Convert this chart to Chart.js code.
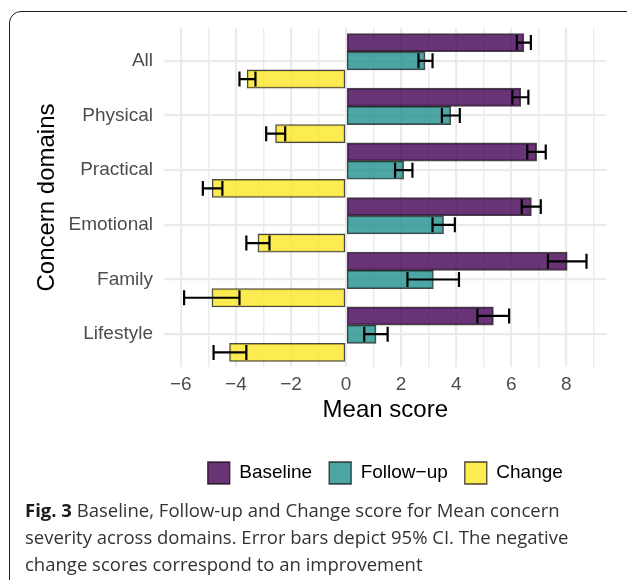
<!DOCTYPE html>
<html>
<head>
<meta charset="utf-8">
<script src="https://cdn.jsdelivr.net/npm/chart.js@4.4.0/dist/chart.umd.min.js"></script>
<style>
  html, body { margin: 0; padding: 0; background: #fff; width: 627px; height: 580px; overflow: hidden; }
  #frame { position: absolute; left: 9px; top: 11px; width: 630px; height: 640px; border: 1.5px solid #1e1e1e; border-radius: 12px; box-sizing: border-box; }
  #chart { position: absolute; left: 0; top: 0; }
  #caption { position: absolute; left: 25px; top: 496px; font-family: 'Open Sans', 'Noto Sans', sans-serif; font-size: 18.5px; line-height: 27px; color: #333; white-space: nowrap; }
  #caption b { color: #1a1a1a; font-weight: 700; }
</style>
</head>
<body>
<div id="frame"></div>
<canvas id="chart" width="627" height="500"></canvas>
<div id="caption"><b>Fig. 3</b> Baseline, Follow-up and Change score for Mean concern<br>severity across domains. Error bars depict 95% CI. The negative<br>change scores correspond to an improvement</div>
<script>
// Concern domains, top to bottom
const domains = ['All', 'Physical', 'Practical', 'Emotional', 'Family', 'Lifestyle'];
const seriesNames = ['Baseline', 'Follow\u2212up', 'Change'];

// Mean scores with 95% confidence limits
const baselineMean = [6.46, 6.34, 6.92, 6.73, 8.03, 5.35];
const baselineLow  = [6.20, 6.04, 6.58, 6.38, 7.33, 4.77];
const baselineHigh = [6.71, 6.62, 7.25, 7.07, 8.73, 5.92];

const followUpMean = [2.87, 3.80, 2.09, 3.54, 3.17, 1.09];
const followUpLow  = [2.63, 3.48, 1.78, 3.14, 2.23, 0.66];
const followUpHigh = [3.14, 4.13, 2.41, 3.95, 4.10, 1.51];

const changeMean = [-3.59, -2.56, -4.86, -3.20, -4.87, -4.23];
const changeLow  = [-3.87, -2.90, -5.20, -3.62, -5.88, -4.81];
const changeHigh = [-3.29, -2.21, -4.49, -2.78, -3.87, -3.62];

// Score axis ticks: labelled majors and unlabelled minors
const xMajorTicks = [-6, -4, -2, 0, 2, 4, 6, 8];
const xTickLabels = ['\u22126', '\u22124', '\u22122', '0', '2', '4', '6', '8'];
const xMinorTicks = [-5, -3, -1, 1, 3, 5, 7, 9];

const FONT = "'Liberation Sans', Arial, Helvetica, sans-serif";
Chart.defaults.font.family = FONT;

const fills = ['rgba(68,1,84,0.8)', 'rgba(33,144,140,0.8)', 'rgba(253,231,37,0.8)'];
const means = [baselineMean, followUpMean, changeMean];
const lows = [baselineLow, followUpLow, changeLow];
const highs = [baselineHigh, followUpHigh, changeHigh];

const datasets = seriesNames.map((name, s) => ({
  label: name,
  data: means[s].map((v, i) => ({ x: v, y: i + 1 })),
  ciLow: lows[s],
  ciHigh: highs[s],
  backgroundColor: fills[s],
  borderColor: 'rgba(0,0,0,0.72)',
  borderWidth: 1.3,
  borderSkipped: false,
  categoryPercentage: 1,
  barPercentage: 1
}));

// Horizontal 95% CI whiskers with end caps
const errorBars = {
  id: 'errorBars',
  afterDatasetsDraw(chart) {
    const ctx = chart.ctx;
    const xs = chart.scales.x;
    ctx.save();
    ctx.strokeStyle = '#000';
    ctx.lineWidth = 2.2;
    chart.data.datasets.forEach((ds, d) => {
      chart.getDatasetMeta(d).data.forEach((bar, i) => {
        const lo = xs.getPixelForValue(ds.ciLow[i]);
        const hi = xs.getPixelForValue(ds.ciHigh[i]);
        const y = bar.y;
        const h = bar.height * 0.41;
        ctx.beginPath();
        ctx.moveTo(lo, y); ctx.lineTo(hi, y);
        ctx.moveTo(lo, y - h); ctx.lineTo(lo, y + h);
        ctx.moveTo(hi, y - h); ctx.lineTo(hi, y + h);
        ctx.stroke();
      });
    });
    ctx.restore();
  }
};

new Chart(document.getElementById('chart'), {
  type: 'bar',
  data: { datasets },
  plugins: [errorBars],
  options: {
    indexAxis: 'y',
    responsive: false,
    animation: false,
    devicePixelRatio: 1,
    layout: { padding: { left: 0, right: 20.4, top: 28, bottom: 6 } },
    scales: {
      x: {
        type: 'linear',
        min: -6.61,
        max: 9.46,
        afterBuildTicks: s => {
          s.ticks = xMajorTicks.concat(xMinorTicks).sort((a, b) => a - b).map(v => ({ value: v }));
        },
        ticks: {
          autoSkip: false,
          maxRotation: 0,
          padding: 6,
          color: '#4D4D4D',
          font: { size: 19 },
          callback: v => {
            const k = xMajorTicks.indexOf(v);
            return k >= 0 ? xTickLabels[k] : '';
          }
        },
        grid: {
          color: '#EBEBEB',
          lineWidth: c => (c.tick && xMajorTicks.includes(c.tick.value)) ? 2.2 : 1.4,
          drawTicks: false
        },
        border: { display: false },
        title: { display: true, text: 'Mean score', color: '#000', font: { size: 24 }, padding: { top: 0, bottom: 20 } },
        afterFit: s => { s.height = 78; }
      },
      y: {
        type: 'linear',
        reverse: true,
        offset: false,
        min: 0.4,
        max: 6.6,
        afterBuildTicks: s => { s.ticks = domains.map((_, i) => ({ value: i + 1 })); },
        ticks: {
          autoSkip: false,
          padding: 11,
          color: '#4D4D4D',
          font: { size: 19 },
          callback: v => domains[v - 1]
        },
        grid: { color: '#EBEBEB', lineWidth: 2.2, drawTicks: false, offset: false },
        border: { display: false },
        title: { display: true, text: 'Concern domains', color: '#000', font: { size: 24 }, padding: { top: 33, bottom: 0 } },
        afterFit: s => { s.width = 164; }
      }
    },
    plugins: {
      legend: {
        position: 'bottom',
        align: 'center',
        fullSize: false,
        labels: { boxWidth: 22, boxHeight: 22, padding: 17, color: '#000', font: { size: 19 } }
      },
      tooltip: { enabled: false }
    }
  }
});
</script>
</body>
</html>
